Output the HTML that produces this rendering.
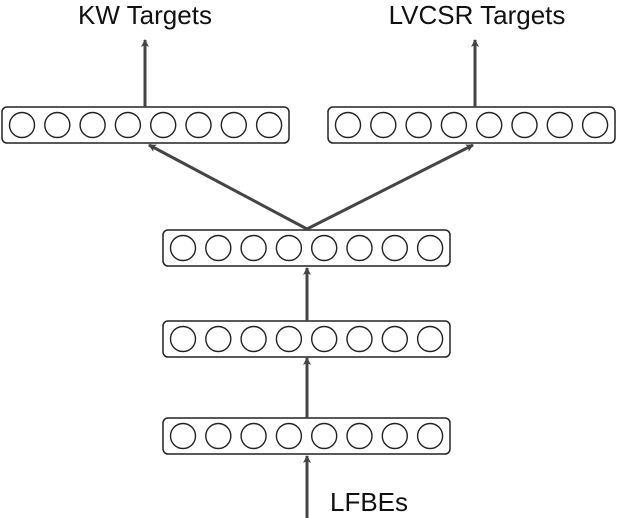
<!DOCTYPE html>
<html><head><style>
html,body{margin:0;padding:0;background:#fff;}
svg{display:block;}
text{font-family:"Liberation Sans",sans-serif;font-size:26px;fill:#111;}
</style></head><body>
<svg width="622" height="518" viewBox="0 0 622 518">
<defs>
<marker id="a" markerWidth="10" markerHeight="10" refX="7" refY="4" orient="auto" markerUnits="userSpaceOnUse">
<path d="M0,0 L8,4 L0,8 L2,4 Z" fill="#444"/>
</marker>
<g id="layer">
<rect x="0" y="0" width="287" height="36" rx="5" fill="#fff" stroke="#222" stroke-width="1.5"/>
<circle cx="20" cy="18" r="12.5" fill="none" stroke="#222" stroke-width="1.4"/>
<circle cx="55.3" cy="18" r="12.5" fill="none" stroke="#222" stroke-width="1.4"/>
<circle cx="90.6" cy="18" r="12.5" fill="none" stroke="#222" stroke-width="1.4"/>
<circle cx="125.9" cy="18" r="12.5" fill="none" stroke="#222" stroke-width="1.4"/>
<circle cx="161.2" cy="18" r="12.5" fill="none" stroke="#222" stroke-width="1.4"/>
<circle cx="196.5" cy="18" r="12.5" fill="none" stroke="#222" stroke-width="1.4"/>
<circle cx="231.8" cy="18" r="12.5" fill="none" stroke="#222" stroke-width="1.4"/>
<circle cx="267.1" cy="18" r="12.5" fill="none" stroke="#222" stroke-width="1.4"/>
</g>
</defs>
<use href="#layer" x="2" y="107"/>
<use href="#layer" x="328" y="107"/>
<use href="#layer" x="163" y="230"/>
<use href="#layer" x="163" y="321"/>
<use href="#layer" x="163" y="418"/>
<g stroke="#444" stroke-width="3" fill="none">
<line x1="145" y1="107" x2="145" y2="40" marker-end="url(#a)"/>
<line x1="475" y1="107" x2="475" y2="40" marker-end="url(#a)"/>
<line x1="307" y1="229" x2="149" y2="145" marker-end="url(#a)"/>
<line x1="307" y1="229" x2="473" y2="145" marker-end="url(#a)"/>
<line x1="307" y1="321" x2="307" y2="268" marker-end="url(#a)"/>
<line x1="307" y1="418" x2="307" y2="358" marker-end="url(#a)"/>
<line x1="307" y1="518" x2="307" y2="456" marker-end="url(#a)"/>
</g>
<text x="145" y="24" text-anchor="middle">KW Targets</text>
<text x="477" y="24" text-anchor="middle">LVCSR Targets</text>
<text x="330" y="511">LFBEs</text>
</svg>
</body></html>
